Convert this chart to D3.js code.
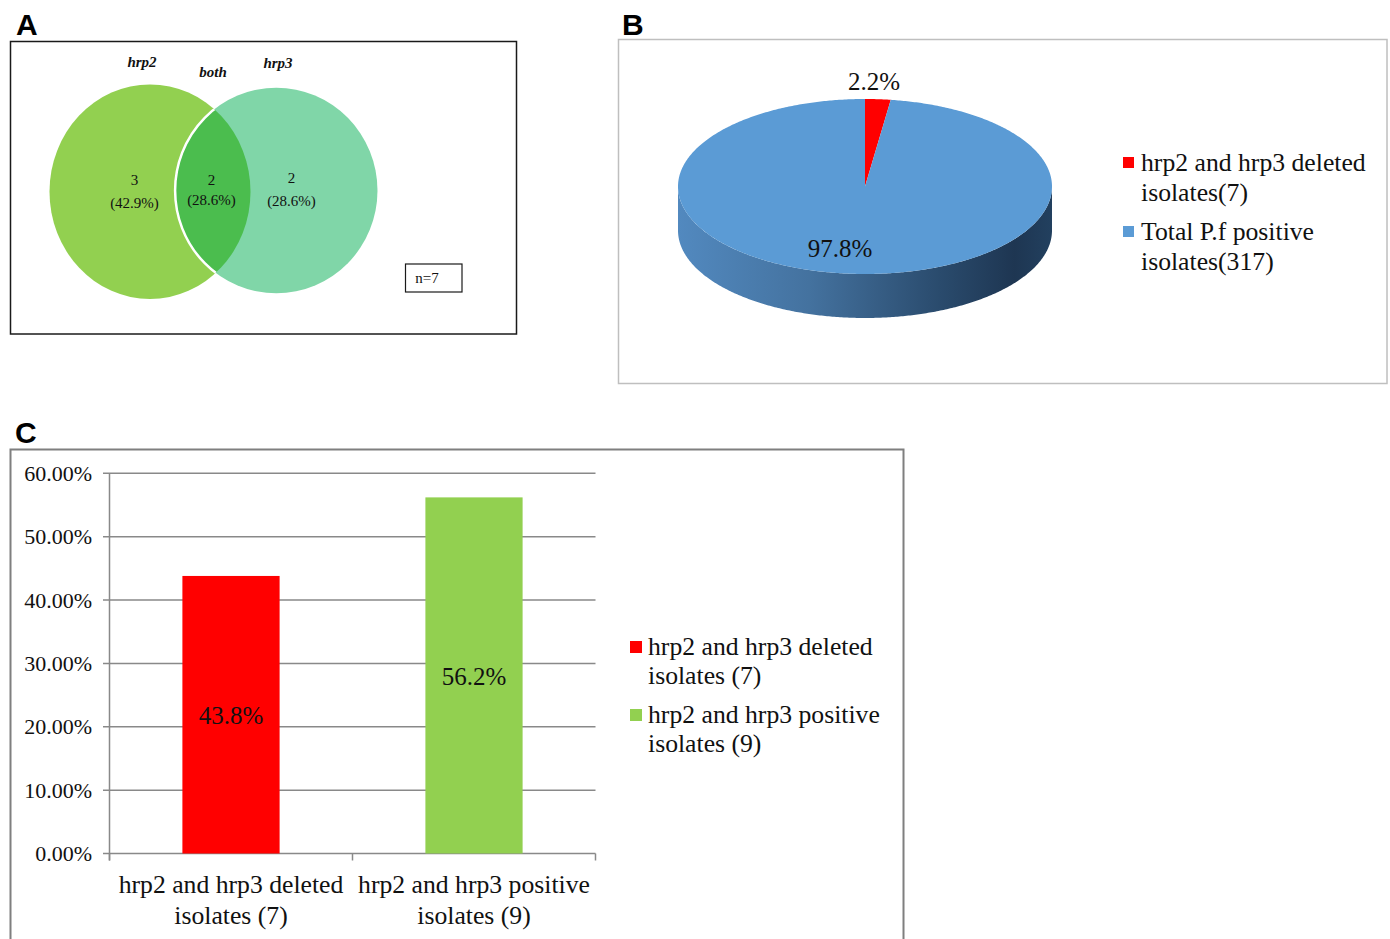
<!DOCTYPE html>
<html>
<head>
<meta charset="utf-8">
<script src="https://cdn.jsdelivr.net/npm/d3@7"></script>
<style>
  html, body { margin: 0; padding: 0; background: #fff; }
  svg { display: block; }
  text { font-family: "Liberation Serif", "Times New Roman", serif; fill: #111; }
  .panel-letter { font-family: "Liberation Sans", Arial, sans-serif; font-weight: bold; font-size: 30px; fill: #000; }
</style>
</head>
<body>
<svg id="chart" width="1390" height="939"></svg>
<script>
// ---------------- DATA ----------------
// Panel A (Venn)
const vennSetNames = ["hrp2", "both", "hrp3"];
const vennCounts = [3, 2, 2];
const vennPercents = ["42.9%", "28.6%", "28.6%"];
const vennTotal = "n=7";

// Panel B (3D pie)
const pieLabels = ["hrp2 and hrp3 deleted isolates(7)", "Total P.f positive isolates(317)"];
const pieLegendLines = [["hrp2 and hrp3 deleted", "isolates(7)"], ["Total P.f positive", "isolates(317)"]];
const pieValues = [2.2, 97.8];
const pieColors = ["#FF0000", "#5B9BD5"];

// Panel C (bars)
const barCategories = ["hrp2 and hrp3 deleted isolates (7)", "hrp2 and hrp3 positive isolates (9)"];
const barCategoryLines = [["hrp2 and hrp3 deleted", "isolates (7)"], ["hrp2 and hrp3 positive", "isolates (9)"]];
const barValues = [0.438, 0.562];
const barLabels = ["43.8%", "56.2%"];
const barColors = ["#FF0000", "#92D050"];
const yTicks = [0, 0.1, 0.2, 0.3, 0.4, 0.5, 0.6];

// ---------------- SETUP ----------------
const svg = d3.select("#chart");
const defs = svg.append("defs");

// Panel letters
[["A", 16, 35], ["B", 622, 35], ["C", 15, 443]].forEach(([t, x, y]) => {
  svg.append("text").attr("class", "panel-letter").attr("x", x).attr("y", y).text(t);
});

// ---------------- PANEL A: VENN ----------------
(function () {
  const g = svg.append("g");
  g.append("rect").attr("x", 10.5).attr("y", 41.5).attr("width", 506).attr("height", 292.5)
    .attr("fill", "none").attr("stroke", "#1a1a1a").attr("stroke-width", 1.5);

  const L = { cx: 150, cy: 191.7, rx: 100.5, ry: 107.3 };
  const R = { cx: 276.3, cy: 190.5, rx: 101.2, ry: 102.8 };

  defs.append("clipPath").attr("id", "clipLeft")
    .append("ellipse").attr("cx", L.cx).attr("cy", L.cy).attr("rx", L.rx).attr("ry", L.ry);

  g.append("ellipse").attr("cx", L.cx).attr("cy", L.cy).attr("rx", L.rx).attr("ry", L.ry)
    .attr("fill", "#92D050");
  g.append("ellipse").attr("cx", R.cx).attr("cy", R.cy).attr("rx", R.rx).attr("ry", R.ry)
    .attr("fill", "#80D6A8");
  // intersection
  g.append("ellipse").attr("cx", R.cx).attr("cy", R.cy).attr("rx", R.rx).attr("ry", R.ry)
    .attr("clip-path", "url(#clipLeft)").attr("fill", "#4BBD4E");
  // white boundary of right circle inside left circle
  g.append("ellipse").attr("cx", R.cx).attr("cy", R.cy).attr("rx", R.rx).attr("ry", R.ry)
    .attr("clip-path", "url(#clipLeft)").attr("fill", "none")
    .attr("stroke", "#ffffff").attr("stroke-width", 2.5);

  // set titles
  const titlePos = [[142, 67], [213, 77], [278, 68]];
  g.selectAll("text.vtitle").data(vennSetNames).join("text")
    .attr("class", "vtitle")
    .attr("x", (d, i) => titlePos[i][0]).attr("y", (d, i) => titlePos[i][1])
    .attr("text-anchor", "middle")
    .style("font-size", "15px").style("font-weight", "bold").style("font-style", "italic")
    .text(d => d);

  const numPos = [[134.5, 185, 208], [211.5, 185, 205], [291.5, 183, 206]];
  vennCounts.forEach((c, i) => {
    g.append("text").attr("x", numPos[i][0]).attr("y", numPos[i][1])
      .attr("text-anchor", "middle").style("font-size", "15px").text(c);
    g.append("text").attr("x", numPos[i][0]).attr("y", numPos[i][2])
      .attr("text-anchor", "middle").style("font-size", "15px").text("(" + vennPercents[i] + ")");
  });

  g.append("rect").attr("x", 405.5).attr("y", 264).attr("width", 56.5).attr("height", 28)
    .attr("fill", "#fff").attr("stroke", "#1a1a1a").attr("stroke-width", 1.2);
  g.append("text").attr("x", 427).attr("y", 282.5).attr("text-anchor", "middle")
    .style("font-size", "15px").text(vennTotal);
})();

// ---------------- PANEL B: 3D PIE ----------------
(function () {
  const g = svg.append("g");
  g.append("rect").attr("x", 618.5).attr("y", 39.5).attr("width", 768.5).attr("height", 344)
    .attr("fill", "none").attr("stroke", "#bfbfbf").attr("stroke-width", 1.5);

  const cx = 865, cy = 186.5, rx = 187, ry = 87.5, depth = 44;
  const pt = (a, dy = 0) => [cx + rx * Math.sin(a), cy - ry * Math.cos(a) + dy];

  const grad = defs.append("linearGradient").attr("id", "sideGrad")
    .attr("gradientUnits", "userSpaceOnUse")
    .attr("x1", cx - rx).attr("x2", cx + rx).attr("y1", 0).attr("y2", 0);
  [[0, "#5289BF"], [0.35, "#44729F"], [0.7, "#2A4B6D"], [0.9, "#1E3652"], [1, "#22405F"]]
    .forEach(([o, c]) => grad.append("stop").attr("offset", o).attr("stop-color", c));
  const sideGradRed = defs.append("linearGradient").attr("id", "sideGradRed")
    .attr("gradientUnits", "userSpaceOnUse")
    .attr("x1", cx - rx).attr("x2", cx + rx).attr("y1", 0).attr("y2", 0);
  [[0, "#E00000"], [1, "#700000"]].forEach(([o, c]) => sideGradRed.append("stop").attr("offset", o).attr("stop-color", c));

  const pie = d3.pie().sort(null).value(d => d).startAngle(0).endAngle(2 * Math.PI);
  const arcs = pie(pieValues);

  const steps = (a0, a1) => {
    const n = Math.max(2, Math.ceil((a1 - a0) / 0.01));
    return d3.range(n + 1).map(i => a0 + (a1 - a0) * i / n);
  };

  // sides (front-facing part: PI/2 .. 3PI/2)
  arcs.forEach((d, i) => {
    const s = Math.max(d.startAngle, Math.PI / 2), e = Math.min(d.endAngle, 3 * Math.PI / 2);
    if (e <= s) return;
    const top = steps(s, e).map(a => pt(a));
    const bot = steps(s, e).reverse().map(a => pt(a, depth));
    g.append("path")
      .attr("d", "M" + top.concat(bot).map(p => p.join(",")).join("L") + "Z")
      .attr("fill", i === 0 ? "url(#sideGradRed)" : "url(#sideGrad)");
  });

  // top faces
  arcs.forEach((d, i) => {
    const pts = steps(d.startAngle, d.endAngle).map(a => pt(a));
    g.append("path")
      .attr("d", "M" + cx + "," + cy + "L" + pts.map(p => p.join(",")).join("L") + "Z")
      .attr("fill", pieColors[i]);
  });

  // labels
  g.append("text").attr("x", 874).attr("y", 90).attr("text-anchor", "middle")
    .style("font-size", "25px").text(d3.format(".1f")(pieValues[0]) + "%");
  g.append("text").attr("x", 840).attr("y", 257).attr("text-anchor", "middle")
    .style("font-size", "25px").text(d3.format(".1f")(pieValues[1]) + "%");

  // legend
  const legY = [157, 226];
  pieLegendLines.forEach((lines, i) => {
    g.append("rect").attr("x", 1123).attr("y", legY[i]).attr("width", 11).attr("height", 11)
      .attr("fill", pieColors[i]);
    lines.forEach((ln, j) => {
      g.append("text").attr("x", 1141).attr("y", legY[i] + 14 + j * 29.5)
        .style("font-size", "25.7px").text(ln);
    });
  });
})();

// ---------------- PANEL C: BAR CHART ----------------
(function () {
  const g = svg.append("g");
  g.append("rect").attr("x", 10.5).attr("y", 449.5).attr("width", 893).attr("height", 520)
    .attr("fill", "none").attr("stroke", "#7f7f7f").attr("stroke-width", 2);

  const x = d3.scaleBand().domain(barCategories).range([109.5, 595.5]).padding(0);
  const y = d3.scaleLinear().domain([0, 0.6]).range([853.5, 473.3]);

  // gridlines
  g.selectAll("line.grid").data(yTicks).join("line")
    .attr("class", "grid")
    .attr("x1", 103).attr("x2", 595.5)
    .attr("y1", d => y(d)).attr("y2", d => y(d))
    .attr("stroke", "#898989").attr("stroke-width", 1.5);

  // y axis line
  g.append("line").attr("x1", 109.5).attr("x2", 109.5).attr("y1", y(0.6)).attr("y2", y(0) + 7)
    .attr("stroke", "#898989").attr("stroke-width", 1.5);

  // y tick labels
  g.selectAll("text.ytick").data(yTicks).join("text")
    .attr("class", "ytick")
    .attr("x", 92).attr("y", d => y(d) + 7.5)
    .attr("text-anchor", "end").style("font-size", "22px")
    .text(d => d3.format(".2%")(d));

  // x ticks
  const xTickPos = [x(barCategories[0]), x(barCategories[1]), x(barCategories[1]) + x.bandwidth()];
  g.selectAll("line.xtick").data(xTickPos).join("line")
    .attr("class", "xtick")
    .attr("x1", d => d).attr("x2", d => d).attr("y1", y(0)).attr("y2", y(0) + 7)
    .attr("stroke", "#898989").attr("stroke-width", 1.5);

  // bars
  const bw = x.bandwidth() * 0.4;
  g.selectAll("rect.bar").data(barValues).join("rect")
    .attr("class", "bar")
    .attr("x", (d, i) => x(barCategories[i]) + (x.bandwidth() - bw) / 2)
    .attr("width", bw)
    .attr("y", d => y(d))
    .attr("height", d => y(0) - y(d))
    .attr("fill", (d, i) => barColors[i]);

  // bar labels
  g.selectAll("text.blabel").data(barValues).join("text")
    .attr("class", "blabel")
    .attr("x", (d, i) => x(barCategories[i]) + x.bandwidth() / 2)
    .attr("y", d => (y(d) + y(0)) / 2 + 9.5)
    .attr("text-anchor", "middle").style("font-size", "25px")
    .text((d, i) => barLabels[i]);

  // category labels
  barCategoryLines.forEach((lines, i) => {
    lines.forEach((ln, j) => {
      g.append("text")
        .attr("x", x(barCategories[i]) + x.bandwidth() / 2)
        .attr("y", 893 + j * 31)
        .attr("text-anchor", "middle").style("font-size", "25.7px").text(ln);
    });
  });

  // legend
  const legY = [641, 709];
  barCategoryLines.forEach((lines, i) => {
    g.append("rect").attr("x", 630).attr("y", legY[i]).attr("width", 12).attr("height", 12)
      .attr("fill", barColors[i]);
    lines.forEach((ln, j) => {
      g.append("text").attr("x", 648).attr("y", legY[i] + 13.5 + j * 29.5)
        .style("font-size", "25.7px").text(ln);
    });
  });
})();
</script>
</body>
</html>
